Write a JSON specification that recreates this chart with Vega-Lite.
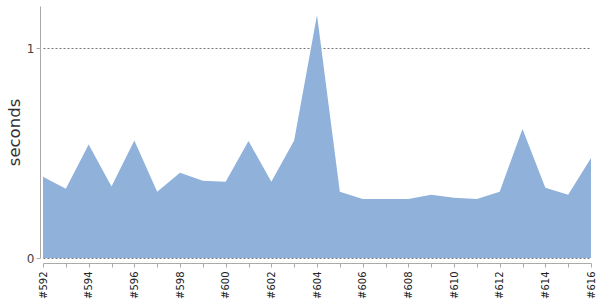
{
  "$schema": "https://vega.github.io/schema/vega-lite/v6.json",
  "width": 548,
  "height": 252,
  "autosize": "none",
  "padding": {"left": 43, "top": 6, "right": 9, "bottom": 42},
  "config": {"view": {"stroke": null}, "font": "DejaVu Sans"},
  "data": {"values": [
    {"build": "#592", "seconds": 0.387},
    {"build": "#593", "seconds": 0.33},
    {"build": "#594", "seconds": 0.541},
    {"build": "#595", "seconds": 0.34},
    {"build": "#596", "seconds": 0.56},
    {"build": "#597", "seconds": 0.316},
    {"build": "#598", "seconds": 0.406},
    {"build": "#599", "seconds": 0.368},
    {"build": "#600", "seconds": 0.363},
    {"build": "#601", "seconds": 0.557},
    {"build": "#602", "seconds": 0.363},
    {"build": "#603", "seconds": 0.559},
    {"build": "#604", "seconds": 1.157},
    {"build": "#605", "seconds": 0.316},
    {"build": "#606", "seconds": 0.281},
    {"build": "#607", "seconds": 0.281},
    {"build": "#608", "seconds": 0.281},
    {"build": "#609", "seconds": 0.301},
    {"build": "#610", "seconds": 0.287},
    {"build": "#611", "seconds": 0.281},
    {"build": "#612", "seconds": 0.316},
    {"build": "#613", "seconds": 0.614},
    {"build": "#614", "seconds": 0.335},
    {"build": "#615", "seconds": 0.301},
    {"build": "#616", "seconds": 0.476}
  ]},
  "mark": {"type": "area", "color": "#8fb1da", "opacity": 1},
  "encoding": {
    "x": {
      "field": "build", "type": "ordinal",
      "scale": {"type": "point", "padding": 0},
      "axis": {
        "title": null,
        "labelAngle": 270,
        "labelAlign": "right",
        "labelBaseline": "middle",
        "labelFontSize": 10,
        "labelColor": "#222",
        "labelPadding": 4,
        "labelExpr": "parseInt(substring(datum.label,1)) % 2 == 0 ? datum.label : ''",
        "offset": 5,
        "domainColor": "#aaa",
        "tickColor": "#aaa",
        "tickSize": 4,
        "grid": false
      }
    },
    "y": {
      "field": "seconds", "type": "quantitative",
      "scale": {"domain": [0, 1.2], "nice": false},
      "axis": {
        "title": "seconds",
        "titleFontSize": 16.5,
        "titleFontWeight": "normal",
        "titleColor": "#333",
        "titlePadding": 4,
        "values": [0, 1],
        "format": "d",
        "labelFontSize": 12,
        "labelColor": "#444",
        "labelPadding": 2,
        "offset": 3,
        "domainColor": "#aaa",
        "tickColor": "#aaa",
        "tickSize": 4,
        "grid": true,
        "gridDash": [2, 2],
        "gridColor": "#777",
        "gridOpacity": 1
      }
    }
  }
}
